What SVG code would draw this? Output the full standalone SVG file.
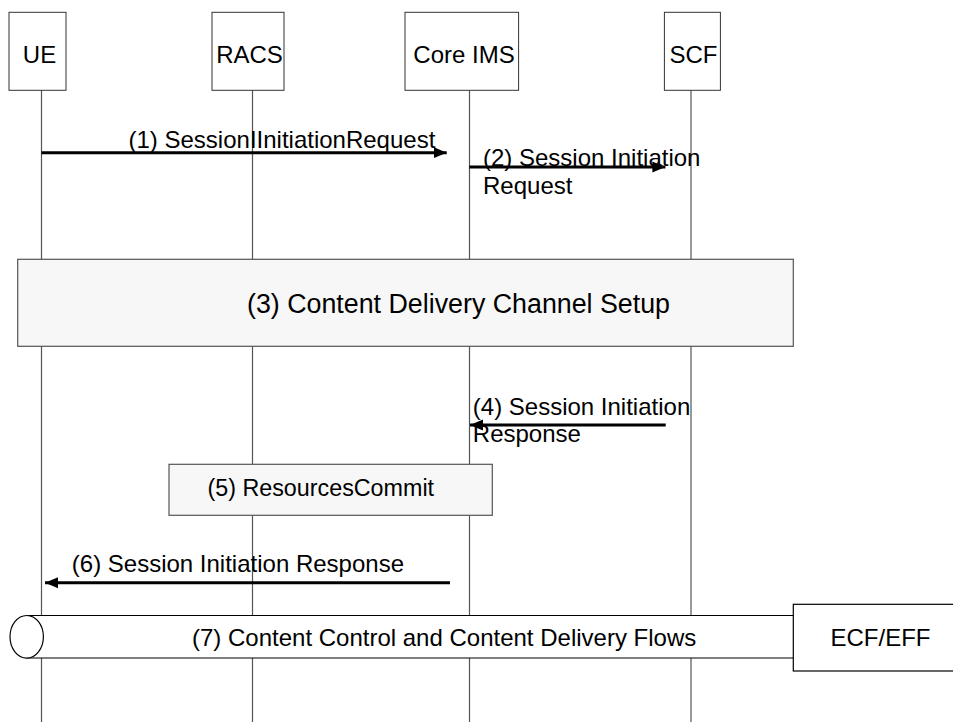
<svg xmlns="http://www.w3.org/2000/svg" width="953" height="722" viewBox="0 0 953 722">
<style>
text{font-family:"Liberation Sans",Arial,sans-serif;font-size:24px;fill:#000}
.hdr{fill:#fff;stroke:#333;stroke-width:1}
.life{stroke:#555;stroke-width:1.2;fill:none}
.msg{stroke:#000;stroke-width:3;fill:none}
.act{fill:#f7f7f7;stroke:#555;stroke-width:1.2}
.flow{fill:#fff;stroke:#000;stroke-width:1.2}
</style>
<defs>
<marker id="ah" markerUnits="userSpaceOnUse" markerWidth="14" markerHeight="12" refX="13" refY="6" orient="auto">
<path d="M0,0.5 L13,6 L0,11.5 Z" fill="#000"/>
</marker>
</defs>
<g id="lifelines">
<line class="life" x1="41.5" y1="90" x2="41.5" y2="722"/>
<line class="life" x1="252.5" y1="90" x2="252.5" y2="722"/>
<line class="life" x1="469.5" y1="90" x2="469.5" y2="722"/>
<line class="life" x1="691" y1="90" x2="691" y2="722"/>
</g>
<g id="UE"><rect class="hdr" x="9" y="12.3" width="57" height="78"/><text x="39.5" y="62.7" text-anchor="middle">UE</text></g>
<g id="RACS"><rect class="hdr" x="212" y="12.3" width="72" height="78"/><text x="249.5" y="62.7" text-anchor="middle">RACS</text></g>
<g id="CoreIMS"><rect class="hdr" x="405" y="12.3" width="113.6" height="78"/><text x="464" y="62.7" text-anchor="middle">Core IMS</text></g>
<g id="SCF"><rect class="hdr" x="664.4" y="12.3" width="56" height="78"/><text x="693.5" y="62.7" text-anchor="middle">SCF</text></g>
<g id="step3"><rect class="act" x="17.7" y="259.3" width="775.6" height="87"/><text x="247" y="313.3" style="font-size:26.8px">(3) Content Delivery Channel Setup</text></g>
<g id="step5"><rect class="act" x="169" y="464.3" width="323.3" height="51"/><text x="207.5" y="495.7" style="font-size:23.3px">(5) ResourcesCommit</text></g>
<g id="step7">
<rect x="26.7" y="615.5" width="770" height="42.5" fill="#fff"/>
<line class="flow" x1="26.7" y1="615.5" x2="793.3" y2="615.5"/>
<line class="flow" x1="26.7" y1="658" x2="793.3" y2="658"/>
<ellipse class="flow" cx="26.7" cy="636.8" rx="16.7" ry="21.3"/>
<text x="192" y="646">(7) Content Control and Content Delivery Flows</text>
</g>
<g id="ECFEFF"><rect class="flow" x="793.3" y="604.3" width="175" height="66.7"/><text x="880.5" y="646" text-anchor="middle">ECF/EFF</text></g>
<g id="connectors">
<line class="msg" x1="41.5" y1="152.7" x2="446.7" y2="152.7" marker-end="url(#ah)"/>
<line class="msg" x1="469.3" y1="167" x2="665.4" y2="167" marker-end="url(#ah)"/>
<line class="msg" x1="665.7" y1="425" x2="470" y2="425" marker-end="url(#ah)"/>
<line class="msg" x1="450" y1="582.7" x2="45" y2="582.7" marker-end="url(#ah)"/>
</g>
<g id="labels">
<text x="128.5" y="147.7">(1) SessionIInitiationRequest</text>
<text x="483" y="165.5">(2) Session Initiation</text>
<text x="483" y="193.7">Request</text>
<text x="472.8" y="415">(4) Session Initiation</text>
<text x="472.8" y="441.7">Response</text>
<text x="71.8" y="571.7">(6) Session Initiation Response</text>
</g>
</svg>
